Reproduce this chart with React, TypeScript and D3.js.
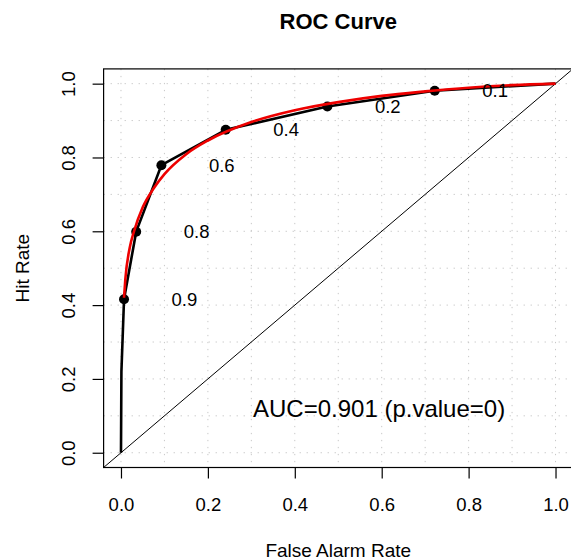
import * as d3 from "d3";
import { useEffect, useRef } from "react";

// empirical ROC (black)
const rocFar = [0, 0.001, 0.007, 0.035, 0.093, 0.241, 0.475, 0.722, 1];
const rocHit = [0, 0.22, 0.416, 0.599, 0.779, 0.875, 0.938, 0.981, 1];

// threshold points and labels
const ptFar = [0.007, 0.035, 0.093, 0.241, 0.475, 0.722];
const ptHit = [0.416, 0.599, 0.779, 0.875, 0.938, 0.981];
const ptLabels = ["0.9", "0.8", "0.6", "0.4", "0.2", "0.1"];

// fitted curve (red)
const fitFar = [0.007, 0.01, 0.02, 0.03, 0.05, 0.075, 0.1, 0.15, 0.2, 0.3, 0.4, 0.5, 0.6, 0.7, 0.8, 0.9, 1];
const fitHit = [0.42, 0.47, 0.555, 0.6, 0.665, 0.716, 0.755, 0.809, 0.846, 0.896, 0.928, 0.95, 0.967, 0.979, 0.989, 0.996, 1];

const tickValues = [0, 0.2, 0.4, 0.6, 0.8, 1];
const gridValues = [0, 0.1, 0.2, 0.3, 0.4, 0.5, 0.6, 0.7, 0.8, 0.9, 1];

const title = "ROC Curve";
const xTitle = "False Alarm Rate";
const yTitle = "Hit Rate";
const aucText = "AUC=0.901 (p.value=0)";

const W = 571;
const H = 560;
const FONT = "'Liberation Sans', Arial, Helvetica, sans-serif";

const App = () => {
    const ref = useRef(null);

    useEffect(() => {
        document.body.style.margin = "0";
        const svg = d3.select(ref.current);
        svg.selectAll("*").remove();

        const left = 103.6, right = 572.9, top = 68.9, bottom = 467.5;
        const x = d3.scaleLinear().domain([-0.04, 1.04]).range([left, right]);
        const y = d3.scaleLinear().domain([-0.04, 1.04]).range([bottom, top]);

        svg.append("rect").attr("width", W).attr("height", H).attr("fill", "white");

        // grid
        const grid = svg.append("g")
            .attr("stroke", "#c8c8c8")
            .attr("stroke-width", 1)
            .attr("stroke-dasharray", "1.3 5.7");
        gridValues.forEach(v => {
            grid.append("line").attr("x1", x(v)).attr("x2", x(v)).attr("y1", top).attr("y2", bottom);
            grid.append("line").attr("y1", y(v)).attr("y2", y(v)).attr("x1", left).attr("x2", right);
        });

        // diagonal
        svg.append("line")
            .attr("x1", x(-0.04)).attr("y1", y(-0.04))
            .attr("x2", x(1.04)).attr("y2", y(1.04))
            .attr("stroke", "black").attr("stroke-width", 1);

        const line = d3.line().x(d => x(d[0])).y(d => y(d[1]));

        svg.append("path")
            .attr("d", line(rocFar.map((f, i) => [f, rocHit[i]])))
            .attr("fill", "none").attr("stroke", "black").attr("stroke-width", 2.6)
            .attr("stroke-linejoin", "round");

        svg.selectAll(".pt")
            .data(ptFar)
            .enter()
            .append("circle")
            .attr("cx", d => x(d))
            .attr("cy", (d, i) => y(ptHit[i]))
            .attr("r", 5)
            .attr("fill", "black");

        svg.append("path")
            .attr("d", line.curve(d3.curveMonotoneX)(fitFar.map((f, i) => [f, fitHit[i]])))
            .attr("fill", "none").attr("stroke", "#ee0000").attr("stroke-width", 2.6);

        svg.selectAll(".lab")
            .data(ptLabels)
            .enter()
            .append("text")
            .attr("x", (d, i) => x(ptFar[i] + 0.139))
            .attr("y", (d, i) => y(ptHit[i]) + 6.5)
            .attr("text-anchor", "middle")
            .attr("font-family", FONT)
            .attr("font-size", 18.5)
            .text(d => d);

        svg.append("text")
            .attr("x", x(0.594))
            .attr("y", y(0.098))
            .attr("text-anchor", "middle")
            .attr("font-family", FONT)
            .attr("font-size", 24)
            .text(aucText);

        // box
        svg.append("rect")
            .attr("x", left).attr("y", top)
            .attr("width", right - left).attr("height", bottom - top)
            .attr("fill", "none").attr("stroke", "black").attr("stroke-width", 1.2);

        // axes
        const xAxis = d3.axisBottom(x).tickValues(tickValues).tickSize(11).tickPadding(19)
            .tickFormat(d3.format(".1f"));
        const gx = svg.append("g").attr("transform", `translate(0, ${bottom})`).call(xAxis);
        gx.select(".domain").remove();
        gx.selectAll("line").attr("stroke-width", 1.2);
        gx.selectAll("text").attr("font-family", FONT).attr("font-size", 18.5).attr("fill", "black");

        const yAxis = d3.axisLeft(y).tickValues(tickValues).tickSize(11)
            .tickFormat(d3.format(".1f"));
        const gy = svg.append("g").attr("transform", `translate(${left}, 0)`).call(yAxis);
        gy.select(".domain").remove();
        gy.selectAll("line").attr("stroke-width", 1.2);
        gy.selectAll("text")
            .attr("x", 0).attr("dy", 0)
            .attr("transform", "translate(-28.5, 0) rotate(-90)")
            .attr("text-anchor", "middle")
            .attr("font-family", FONT).attr("font-size", 18.5).attr("fill", "black");

        // titles
        svg.append("text")
            .attr("x", (left + right) / 2).attr("y", 29)
            .attr("text-anchor", "middle")
            .attr("font-family", FONT).attr("font-size", 22).attr("font-weight", "bold")
            .text(title);

        svg.append("text")
            .attr("x", (left + right) / 2).attr("y", 557)
            .attr("text-anchor", "middle")
            .attr("font-family", FONT).attr("font-size", 19)
            .text(xTitle);

        svg.append("text")
            .attr("transform", `translate(29, ${(top + bottom) / 2}) rotate(-90)`)
            .attr("text-anchor", "middle")
            .attr("font-family", FONT).attr("font-size", 19)
            .text(yTitle);
    }, []);

    return <svg ref={ref} width={W} height={H} style={{ display: "block" }}></svg>;
};

export default App;
